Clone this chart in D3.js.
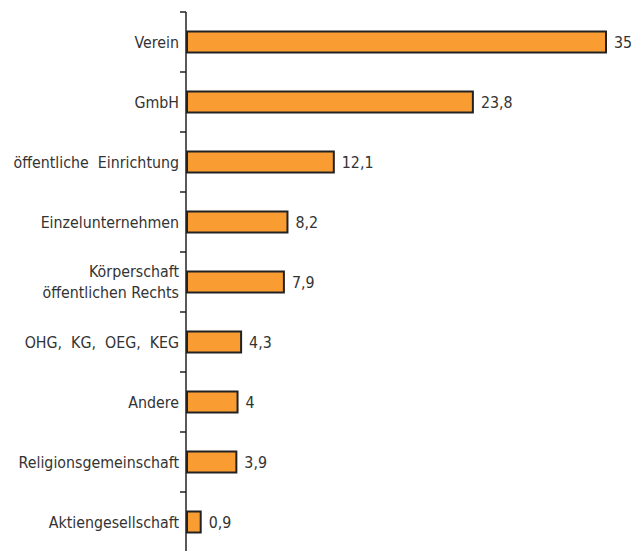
<!DOCTYPE html>
<html>
<head>
<meta charset="utf-8">
<script src="https://cdn.jsdelivr.net/npm/d3@7"></script>
<style>
  body { margin: 0; background: #fff; }
  svg text { font-family: "DejaVu Sans Condensed", "Liberation Sans Narrow", sans-serif; font-size: 15.8px; fill: #333; white-space: pre; }
</style>
</head>
<body>
<svg id="chart" width="632" height="551"></svg>
<script>
// Rechtsformen, Anteil in %
const categories = [
  'Verein',
  'GmbH',
  'öffentliche  Einrichtung',
  'Einzelunternehmen',
  'Körperschaft\nöffentlichen Rechts',
  'OHG,  KG,  OEG,  KEG',
  'Andere',
  'Religionsgemeinschaft',
  'Aktiengesellschaft'
];
const values = [35, 23.8, 12.1, 8.2, 7.9, 4.3, 4, 3.9, 0.9];
const valueLabels = ['35', '23,8', '12,1', '8,2', '7,9', '4,3', '4', '3,9', '0,9'];

const svg = d3.select('#chart');

const AXIS_X = 186;
const LINE_H = 1.28; // em, for two-line labels

const y = d3.scaleBand()
  .domain(categories)
  .range([12, 552])
  .paddingInner(0.65)
  .paddingOuter(0.325);

const x = d3.scaleLinear()
  .domain([0, 35])
  .range([190, 606]);

// bars (start right at the axis)
svg.append('g')
  .selectAll('rect')
  .data(values)
  .join('rect')
    .attr('x', AXIS_X + 1)
    .attr('y', (d, i) => y(categories[i]))
    .attr('width', d => x(d) - AXIS_X - 1)
    .attr('height', y.bandwidth())
    .attr('fill', '#f99d33')
    .attr('stroke', '#222')
    .attr('stroke-width', 2);

// value labels
svg.append('g')
  .selectAll('text')
  .data(values)
  .join('text')
    .attr('x', d => x(d) + 8)
    .attr('y', (d, i) => y(categories[i]) + y.bandwidth() / 2)
    .attr('dy', '0.35em')
    .text((d, i) => valueLabels[i]);

// axis line + ticks at band boundaries
const axis = svg.append('g');
axis.append('line')
  .attr('x1', AXIS_X).attr('x2', AXIS_X)
  .attr('y1', 12).attr('y2', 552)
  .attr('stroke', '#222').attr('stroke-width', 1.5);

const step = y.step();
axis.selectAll('line.tick')
  .data(d3.range(categories.length + 1))
  .join('line')
    .attr('class', 'tick')
    .attr('x1', AXIS_X - 6).attr('x2', AXIS_X)
    .attr('y1', i => 12 + i * step).attr('y2', i => 12 + i * step)
    .attr('stroke', '#222').attr('stroke-width', 1.5);

// category labels
const labels = svg.append('g')
  .selectAll('text')
  .data(categories)
  .join('text')
    .attr('text-anchor', 'end')
    .attr('x', AXIS_X - 7)
    .attr('y', d => y(d) + y.bandwidth() / 2);

labels.each(function (d) {
  const lines = d.split('\n');
  const t = d3.select(this);
  lines.forEach((line, k) => {
    t.append('tspan')
      .attr('x', AXIS_X - 7)
      .attr('dy', k === 0 ? (0.35 - (lines.length - 1) * LINE_H / 2) + 'em' : LINE_H + 'em')
      .text(line);
  });
});
</script>
</body>
</html>
